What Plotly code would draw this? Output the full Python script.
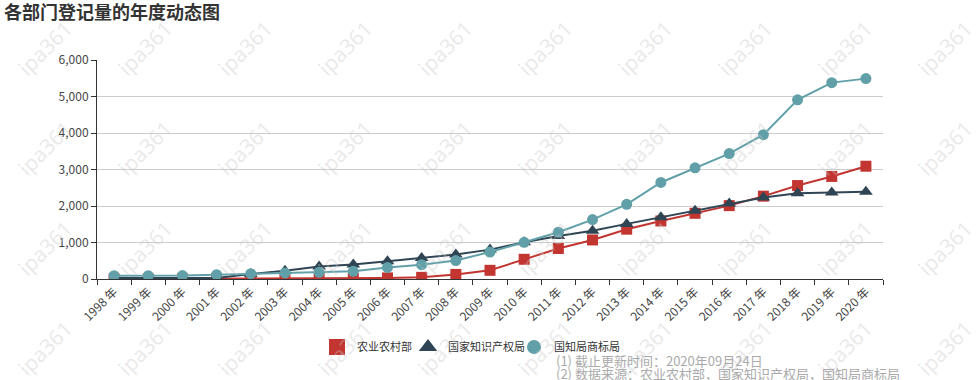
import plotly.graph_objects as go

years = ["1998 年", "1999 年", "2000 年", "2001 年", "2002 年", "2003 年", "2004 年",
         "2005 年", "2006 年", "2007 年", "2008 年", "2009 年", "2010 年", "2011 年",
         "2012 年", "2013 年", "2014 年", "2015 年", "2016 年", "2017 年", "2018 年",
         "2019 年", "2020 年"]

agri = [0, 2, 5, 8, 10, 12, 15, 18, 30, 45, 125, 238, 540, 835, 1070, 1365, 1590,
        1800, 2010, 2270, 2560, 2810, 3090]
patent = [25, 25, 25, 28, 136, 227, 340, 400, 485, 575, 670, 805, 1005, 1180, 1325,
          1510, 1690, 1870, 2070, 2230, 2350, 2370, 2390]
trademark = [91, 91, 95, 118, 145, 165, 185, 210, 318, 391, 505, 740, 1005, 1282, 1627,
             2045, 2645, 3045, 3435, 3955, 4910, 5380, 5490]

names = ["农业农村部", "国家知识产权局", "国知局商标局"]
colors = ["#c23531", "#2f4554", "#61a0a8"]
symbols = ["square", "triangle-up", "circle"]
series = [agri, patent, trademark]
footnotes = ["(1) 截止更新时间：2020年09月24日",
             "(2) 数据来源：农业农村部，国家知识产权局，国知局商标局"]

FONT = "Noto Sans CJK SC, Noto Sans, sans-serif"
W, H = 980, 380
L, R, T, B = 97, 883, 60, 279

fig = go.Figure()
for nm, col, sym, vals in zip(names, colors, symbols, series):
    fig.add_trace(go.Scatter(
        x=years, y=vals, mode="lines+markers", name=nm, showlegend=False,
        line=dict(color=col, width=2),
        marker=dict(symbol=sym, size=11 if sym != "triangle-up" else 12, color=col),
    ))
# legend-only markers
leg_w = [46, 61, 70]
leg_size = [16, 16, 14]
for nm, col, sym, lw, ms in zip(names, colors, symbols, leg_w, leg_size):
    fig.add_trace(go.Scatter(
        x=[None], y=[None], mode="markers", name=nm, legendwidth=lw,
        marker=dict(symbol=sym, size=ms, color=col),
    ))

# watermark
for i in range(10):
    for j in range(4):
        fig.add_annotation(
            xref="paper", yref="paper",
            x=(45 + 100 * i - L) / (R - L), y=(B - (48 + 100 * j)) / (B - T),
            text="ipa361", showarrow=False, textangle=-45,
            font=dict(family="Noto Sans, sans-serif", size=21, color="rgba(200,200,200,0.4)"),
            xanchor="center", yanchor="middle",
        )

for k, txt in enumerate(footnotes):
    fig.add_annotation(
        xref="paper", yref="paper", x=(554 - L) / (R - L), y=(B - (361 + 12 * k)) / (B - T),
        text=txt, showarrow=False, align="left", xanchor="left", yanchor="middle",
        font=dict(family=FONT, size=13, color="#aaaaaa"),
    )

fig.update_layout(
    width=W, height=H,
    margin=dict(l=L, r=W - R, t=T, b=H - B, autoexpand=False),
    paper_bgcolor="white", plot_bgcolor="white",
    font=dict(family=FONT, size=12, color="#333333"),
    title=dict(text="<b>各部门登记量的年度动态图</b>", x=0.004, xanchor="left",
               y=1 - 13 / H, yanchor="middle", yref="container",
               font=dict(family=FONT, size=18, color="#333333")),
    legend=dict(orientation="h", x=(317 - L) / (R - L), xanchor="left", yref="container",
                y=1 - 347 / H, yanchor="middle",
                font=dict(family=FONT, size=11, color="#333333"),
                bgcolor="rgba(0,0,0,0)"),
    showlegend=True,
)
fig.update_xaxes(
    type="category", range=[-0.5, 22.5], tickangle=-45, tickson="boundaries",
    ticks="outside", ticklen=5, tickcolor="#333333", showline=True, linecolor="#333333",
    linewidth=1, showgrid=False, automargin=False,
    tickfont=dict(family=FONT, size=12, color="#444444"),
)
fig.update_yaxes(
    range=[0, 6000], tickvals=[0, 1000, 2000, 3000, 4000, 5000, 6000], tickformat=",",
    ticks="outside", ticklen=5, tickcolor="#333333", showline=True, linecolor="#333333",
    linewidth=1, showgrid=True, gridcolor="#cccccc", zeroline=False, automargin=False,
    tickfont=dict(family=FONT, size=12, color="#444444"),
)

fig.write_html("out.html", config={"displayModeBar": False},
               post_script="document.body.style.margin='0';")
